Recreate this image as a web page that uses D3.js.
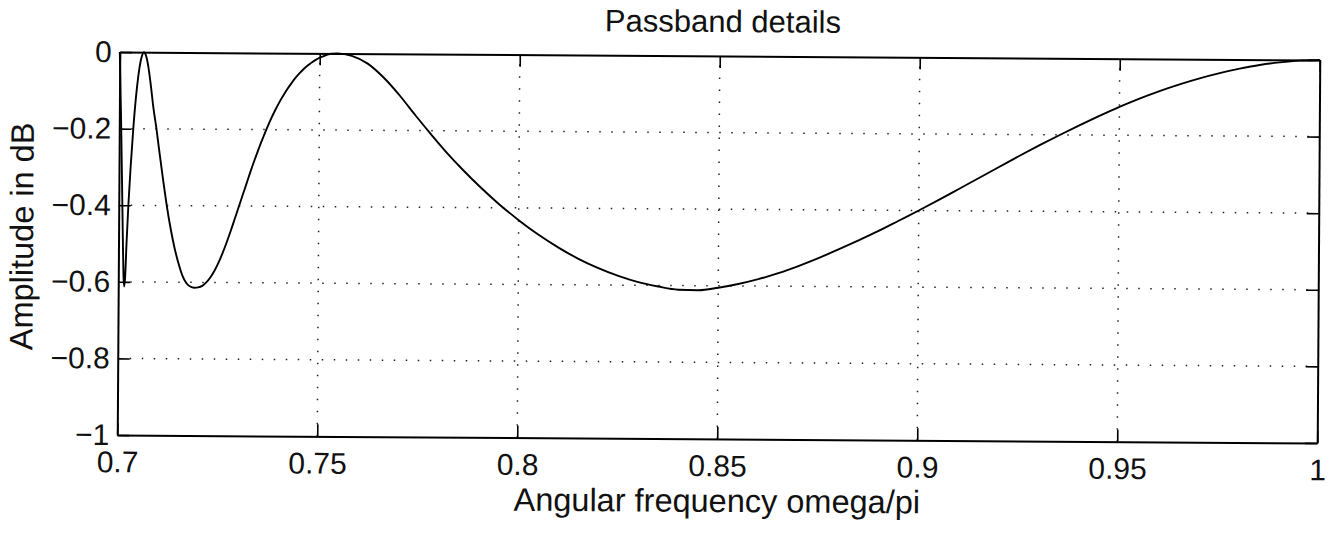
<!DOCTYPE html>
<html>
<head>
<meta charset="utf-8">
<script src="https://cdn.jsdelivr.net/npm/d3@7"></script>
<style>
  html, body { margin: 0; padding: 0; background: #fff; }
  svg { display: block; }
  text { font-family: "Liberation Sans", Arial, Helvetica, sans-serif; fill: #111; }
</style>
</head>
<body>
<svg id="chart" width="1330" height="533"></svg>
<script>
// ---- data ----
const titleText = "Passband details";
const xLabelText = "Angular frequency omega/pi";
const yLabelText = "Amplitude in dB";

const xTicks = [0.7, 0.75, 0.8, 0.85, 0.9, 0.95, 1];
const xTickLabels = ["0.7", "0.75", "0.8", "0.85", "0.9", "0.95", "1"];
const yTicks = [0, -0.2, -0.4, -0.6, -0.8, -1];
const yTickLabels = ["0", "\u22120.2", "\u22120.4", "\u22120.6", "\u22120.8", "\u22121"];
const xGrid = [0.75, 0.8, 0.85, 0.9, 0.95];
const yGrid = [-0.2, -0.4, -0.6, -0.8];

// normalized frequency (omega/pi)
const freq = [
  0.7000, 0.7004, 0.7008, 0.7011, 0.7013, 0.7015, 0.7017, 0.7020, 0.7024, 0.7029,
  0.7035, 0.7041, 0.7047, 0.7052, 0.7056, 0.7060, 0.7066, 0.7072, 0.7078, 0.7085,
  0.7093, 0.7100, 0.7110, 0.7120, 0.7130, 0.7140, 0.7150, 0.7160, 0.7170, 0.7180,
  0.7190, 0.7200, 0.7210, 0.7220, 0.7230, 0.7240, 0.7250, 0.7260, 0.7270, 0.7280,
  0.7290, 0.7300, 0.7310, 0.7320, 0.7330, 0.7340, 0.7350, 0.7360, 0.7370, 0.7380,
  0.7390, 0.7400, 0.7410, 0.7420, 0.7430, 0.7440, 0.7450, 0.7460, 0.7470, 0.7480,
  0.7490, 0.7500, 0.7510, 0.7520, 0.7530, 0.7545, 0.7580, 0.7620, 0.7660, 0.7700,
  0.7740, 0.7780, 0.7820, 0.7860, 0.7900, 0.7950, 0.8000, 0.8050, 0.8100, 0.8150,
  0.8200, 0.8250, 0.8300, 0.8350, 0.8400, 0.8450, 0.8500, 0.8550, 0.8600, 0.8650,
  0.8700, 0.8750, 0.8800, 0.8850, 0.8900, 0.8950, 0.9000, 0.9050, 0.9100, 0.9150,
  0.9200, 0.9250, 0.9300, 0.9350, 0.9400, 0.9450, 0.9500, 0.9550, 0.9600, 0.9650,
  0.9700, 0.9750, 0.9800, 0.9850, 0.9900, 0.9950, 1.0000
];
// amplitude in dB
const ampDb = [
  0.000, -0.160, -0.350, -0.500, -0.585, -0.612, -0.590, -0.500, -0.400, -0.300,
  -0.200, -0.120, -0.060, -0.025, -0.008, 0.000, -0.010, -0.040, -0.085, -0.145,
  -0.200, -0.255, -0.330, -0.400, -0.460, -0.510, -0.550, -0.582, -0.602, -0.611,
  -0.614, -0.613, -0.609, -0.600, -0.587, -0.570, -0.549, -0.524, -0.496, -0.466,
  -0.434, -0.402, -0.370, -0.338, -0.306, -0.276, -0.247, -0.220, -0.194, -0.170,
  -0.148, -0.128, -0.110, -0.093, -0.078, -0.064, -0.052, -0.041, -0.032, -0.024,
  -0.017, -0.011, -0.007, -0.003, -0.001, 0.000, -0.006, -0.026, -0.062, -0.108,
  -0.160, -0.210, -0.258, -0.302, -0.343, -0.390, -0.432, -0.470, -0.503, -0.532,
  -0.556, -0.576, -0.592, -0.603, -0.611, -0.612, -0.605, -0.595, -0.582, -0.566,
  -0.547, -0.526, -0.503, -0.479, -0.454, -0.427, -0.400, -0.372, -0.343, -0.314,
  -0.285, -0.256, -0.228, -0.201, -0.175, -0.150, -0.126, -0.104, -0.084, -0.066,
  -0.050, -0.036, -0.024, -0.014, -0.007, -0.002, 0.000
];

// ---- layout ----
const L = 118.5, R = 1318.5, T = 56, B = 439;
const svg = d3.select("#chart");
// the reference is a slightly rotated scan
const root = svg.append("g").attr("transform", "rotate(0.38 718.5 247.5)");

const x = d3.scaleLinear().domain([0.7, 1]).range([L, R]);
const y = d3.scaleLinear().domain([-1, 0]).range([B, T]);

// grid (dotted)
const grid = root.append("g").attr("stroke", "#222").attr("stroke-width", 1.5)
  .attr("stroke-dasharray", "1.5 10.5").attr("fill", "none");
grid.selectAll("line.v").data(xGrid).join("line").attr("class", "v")
  .attr("x1", d => x(d)).attr("x2", d => x(d)).attr("y1", y(-1)).attr("y2", y(0));
grid.selectAll("line.h").data(yGrid).join("line").attr("class", "h")
  .attr("x1", x(0.7)).attr("x2", x(1)).attr("y1", d => y(d)).attr("y2", d => y(d));

// curve
const line = d3.line().x(d => x(d[0])).y(d => y(d[1])).curve(d3.curveMonotoneX);
root.append("path")
  .datum(freq.map((f, i) => [f, ampDb[i]]))
  .attr("d", line)
  .attr("fill", "none").attr("stroke", "#000").attr("stroke-width", 1.9)
  .attr("stroke-linejoin", "round");

// axes (ticks inward on all sides)
const tickLen = 12;
const fmtX = d => xTickLabels[xTicks.indexOf(d)];
const fmtY = d => yTickLabels[yTicks.indexOf(d)];

function styleAxis(g) {
  g.select(".domain").attr("stroke", "#000").attr("stroke-width", 2);
  g.selectAll(".tick line").attr("stroke", "#000").attr("stroke-width", 1.6);
  g.selectAll(".tick text").attr("fill", "#111");
}

root.append("g").attr("transform", `translate(0,${B})`)
  .call(d3.axisBottom(x).tickValues(xTicks).tickFormat(fmtX)
    .tickSizeInner(-tickLen).tickSizeOuter(0).tickPadding(16))
  .attr("font-size", 30).attr("font-family", null)
  .call(styleAxis);

root.append("g").attr("transform", `translate(0,${T})`)
  .call(d3.axisTop(x).tickValues(xTicks).tickFormat("")
    .tickSizeInner(-tickLen).tickSizeOuter(0))
  .call(styleAxis);

root.append("g").attr("transform", `translate(${L},0)`)
  .call(d3.axisLeft(y).tickValues(yTicks).tickFormat(fmtY)
    .tickSizeInner(-tickLen).tickSizeOuter(0).tickPadding(8))
  .attr("font-size", 30).attr("font-family", null)
  .call(styleAxis);

root.append("g").attr("transform", `translate(${R},0)`)
  .call(d3.axisRight(y).tickValues(yTicks).tickFormat("")
    .tickSizeInner(-tickLen).tickSizeOuter(0))
  .call(styleAxis);

// titles
root.append("text").attr("x", (L + R) / 2 + 3).attr("y", 32)
  .attr("text-anchor", "middle").attr("font-size", 31).text(titleText);
root.append("text").attr("x", (L + R) / 2).attr("y", 512)
  .attr("text-anchor", "middle").attr("font-size", 32.5).text(xLabelText);
root.append("text")
  .attr("transform", "translate(33,241) rotate(-90)")
  .attr("text-anchor", "middle").attr("font-size", 32.5).text(yLabelText);
</script>
</body>
</html>
